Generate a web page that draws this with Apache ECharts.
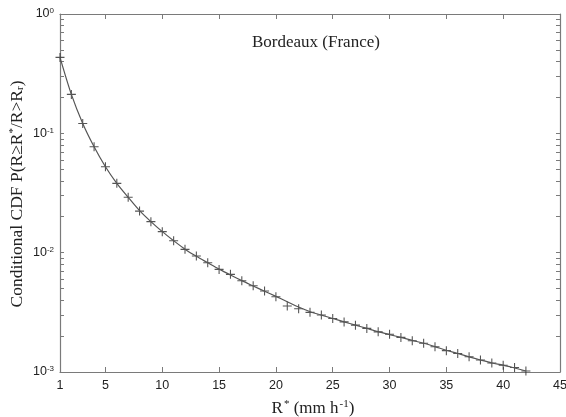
<!DOCTYPE html>
<html>
<head>
<meta charset="utf-8">
<script src="https://cdn.jsdelivr.net/npm/echarts@6/dist/echarts.min.js"></script>
<style>html,body{margin:0;padding:0;background:#fff;}#c{width:566px;height:417px;}</style>
</head>
<body>
<div id="c"></div>
<script>
var rainRate = [1,2,3,4,5,6,7,8,9,10,11,12,13,14,15,16,17,18,19,20,21,22,23,24,25,26,27,28,29,30,31,32,33,34,35,36,37,38,39,40,41,42];
var observed = [0.433,0.212,0.121,0.0772,0.0525,0.0381,0.0291,0.0223,0.0182,0.0150,0.0126,0.01066,0.00937,0.00823,0.00724,0.00658,0.00581,0.00528,0.00477,0.00427,0.00357,0.00339,0.00316,0.00300,0.00281,0.00263,0.00247,0.00232,0.00217,0.00207,0.00195,0.00183,0.00174,0.00163,0.00151,0.00143,0.00134,0.00126,0.00119,0.00114,0.00109,0.00102];
var fitted = [0.433,0.212,0.121,0.0772,0.0525,0.0381,0.0291,0.0225,0.0182,0.0150,0.0126,0.01070,0.00932,0.00823,0.00728,0.00650,0.00583,0.00526,0.00475,0.00430,0.00388,0.00350,0.00320,0.00300,0.00281,0.00263,0.00247,0.00232,0.00218,0.00206,0.00195,0.00184,0.00174,0.00163,0.00152,0.00143,0.00134,0.00126,0.00119,0.00114,0.00108,0.00102];
var xTicks = [1,5,10,15,20,25,30,35,40,45];
var yMajor = [0.001,0.01,0.1,1];
var yMinorTicks = [0.002,0.003,0.004,0.005,0.006,0.007,0.008,0.009,0.02,0.03,0.04,0.05,0.06,0.07,0.08,0.09,0.2,0.3,0.4,0.5,0.6,0.7,0.8,0.9];
var title = 'Bordeaux (France)';

var chart = echarts.init(document.getElementById('c'), null, {renderer:'canvas'});
var axisGray = '#7a7a7a';
var serif = '"Liberation Serif", "Times New Roman", serif';
var plusPath = 'path://M0,4.4H4.4V0H5.6V4.4H10V5.6H5.6V10H4.4V5.6H0Z';
function expLabel(v){
  var e = Math.round(Math.log10(v));
  return '{b|10}{s|' + e + '}';
}
var yAll = yMajor.concat(yMinorTicks);
var yAxisCommon = {
  type:'log', logBase:10, min:0.001, max:1,
  axisLine:{show:true, lineStyle:{color:axisGray, width:1.2}},
  splitLine:{show:false}
};
var xAxisCommon = {
  type:'value', min:1, max:45,
  axisLine:{show:true, lineStyle:{color:axisGray, width:1.2}},
  splitLine:{show:false}
};
chart.setOption({
  animation:false,
  backgroundColor:'#fff',
  grid:{left:60, right:6, top:14, bottom:45, containLabel:false, outerBoundsMode:'none'},
  graphic:[
    {type:'text', left:252, top:34, style:{text:title, font:'17px ' + serif, fill:'#222'}},
    {type:'text', x:17, y:194, rotation:Math.PI/2, style:{
      text:'Conditional CDF P(R≥R{s|*}/R>R{r|r})',
      font:'17.5px ' + serif, fill:'#222', align:'center', verticalAlign:'middle',
      rich:{
        s:{fontSize:11, fontFamily:serif, fill:'#222', padding:[0,0,8,0]},
        r:{fontSize:11, fontFamily:serif, fill:'#222', padding:[6,0,0,0]}
      }
    }}
  ],
  xAxis:[
    Object.assign({}, xAxisCommon, {
      position:'bottom',
      axisTick:{show:true, inside:true, length:5, lineStyle:{color:axisGray}, customValues:xTicks.slice(1,-1)},
      axisLabel:{show:true, customValues:xTicks, color:'#222', fontSize:12.5, fontFamily:'Liberation Sans, Arial, sans-serif', margin:7},
      name:'{t|R}{s|*}{t| (mm h}{s|-1}{t|)}',
      nameLocation:'middle', nameGap:27,
      nameTextStyle:{padding:[0,0,0,6], rich:{
        t:{fontSize:17, fontFamily:serif, color:'#222', lineHeight:20},
        s:{fontSize:11, fontFamily:serif, color:'#222', verticalAlign:'top', lineHeight:20, padding:[0,0,7,1]}
      }}
    }),
    Object.assign({}, xAxisCommon, {
      position:'top',
      axisTick:{show:true, inside:true, length:5, lineStyle:{color:axisGray}, customValues:xTicks.slice(1,-1)},
      axisLabel:{show:false}
    })
  ],
  yAxis:[
    Object.assign({}, yAxisCommon, {
      position:'left',
      axisTick:{show:true, inside:true, length:4, lineStyle:{color:axisGray}, customValues:yAll},
      axisLabel:{show:true, customValues:yMajor, formatter:expLabel, margin:6, rich:{
        b:{fontSize:12.5, fontFamily:'Liberation Sans, Arial, sans-serif', color:'#222', lineHeight:14},
        s:{fontSize:8, fontFamily:'Liberation Sans, Arial, sans-serif', color:'#222', verticalAlign:'top', lineHeight:14, padding:[0,0,7,0]}
      }}
    }),
    Object.assign({}, yAxisCommon, {
      position:'right',
      axisTick:{show:true, inside:true, length:4, lineStyle:{color:axisGray}, customValues:yAll},
      axisLabel:{show:false}
    })
  ],
  series:[
    {
      type:'line', xAxisIndex:0, yAxisIndex:0,
      data:rainRate.map(function(x,i){return [x, fitted[i]];}),
      showSymbol:false, smooth:0.3,
      lineStyle:{color:'#555', width:1.2}
    },
    {
      type:'scatter', xAxisIndex:0, yAxisIndex:0,
      data:rainRate.map(function(x,i){return [x, observed[i]];}),
      symbol:plusPath, symbolSize:9,
      itemStyle:{color:'#2a2a2a'}
    }
  ]
});
</script>
</body>
</html>
